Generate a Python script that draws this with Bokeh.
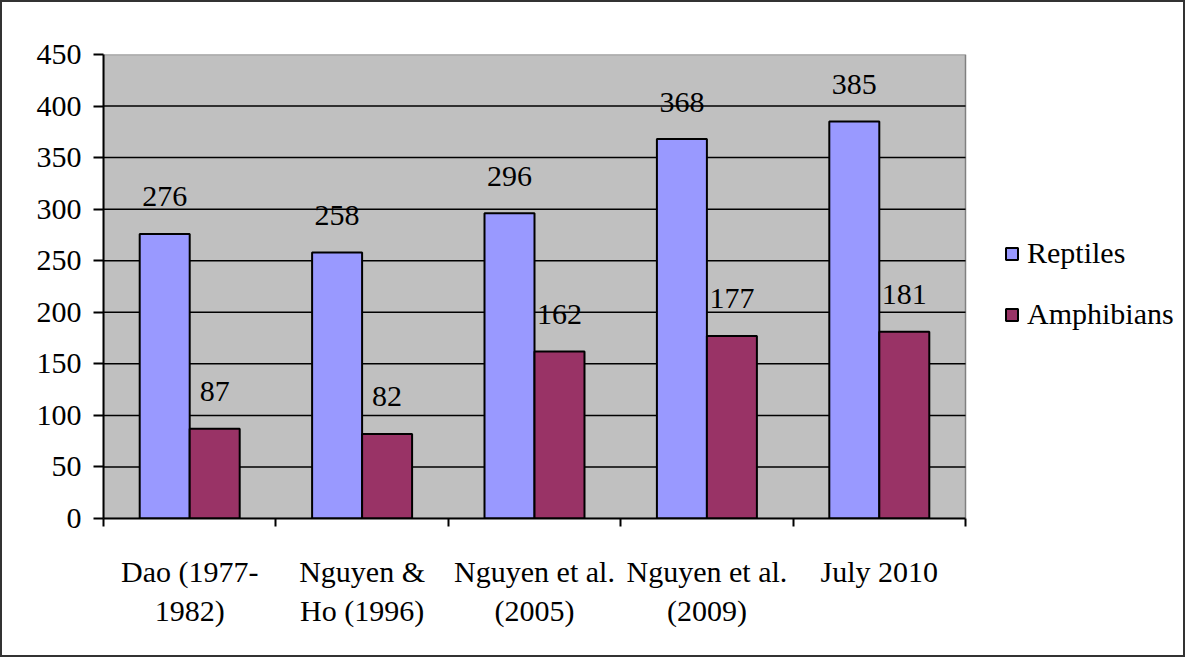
from bokeh.plotting import figure
from bokeh.models import FixedTicker, Legend, LegendItem, Range1d
from bokeh.core.properties import value
from bokeh.embed import file_html
from bokeh.resources import INLINE

categories = ["Dao (1977-\n1982)", "Nguyen &\nHo (1996)", "Nguyen et al.\n(2005)", "Nguyen et al.\n(2009)", "July 2010"]
reptiles = [276, 258, 296, 368, 385]
amphibians = [87, 82, 162, 177, 181]
y_ticks = [0, 50, 100, 150, 200, 250, 300, 350, 400, 450]

FONT = "Liberation Serif"
REP = "#9999ff"
AMP = "#993366"

n = len(categories)
ymax = y_ticks[-1]
bw = 0.29
x_rep = [i + 0.5 - bw / 2 for i in range(n)]
x_amp = [i + 0.5 + bw / 2 for i in range(n)]

# plot area is 862 px wide for n groups; the frame extends to the right for the legend
FRAME_W = 1080
x_end = n * FRAME_W / 862.0

p = figure(frame_width=FRAME_W, frame_height=464, x_range=Range1d(0, x_end), y_range=Range1d(0, ymax),
           output_backend="svg", toolbar_location=None,
           min_border_left=101, min_border_top=52, min_border_right=0, min_border_bottom=137)
p.styles = {"border": "2px solid #333333"}
p.background_fill_color = "white"
p.border_fill_color = "white"
p.outline_line_color = None

p.xgrid.grid_line_color = None
p.ygrid.grid_line_color = None

# plot-area background
p.quad(left=[0], right=[n], bottom=[0], top=[ymax], fill_color="#c0c0c0",
       line_color="#808080", line_width=1.5, level="image")
# horizontal gridlines
gl = y_ticks[1:-1]
p.segment(x0=[0] * len(gl), x1=[n] * len(gl), y0=gl, y1=gl, line_color="black", line_width=1.5)

r1 = p.vbar(x=x_rep, top=reptiles, width=bw, fill_color=REP, line_color="black", line_width=2)
r2 = p.vbar(x=x_amp, top=amphibians, width=bw, fill_color=AMP, line_color="black", line_width=2)

lab_x = x_rep + x_amp
lab_y = reptiles + amphibians
lab_t = [str(v) for v in lab_y]
p.text(x=lab_x, y=lab_y, text=lab_t, text_align="center", text_baseline="alphabetic",
       y_offset=-37, text_font=value(FONT), text_font_size="30px", text_color="black")

# y axis
ya = p.yaxis[0]
ya.ticker = FixedTicker(ticks=y_ticks)
ya.axis_line_color = "black"
ya.axis_line_width = 2
ya.major_tick_out = 10
ya.major_tick_in = 0
ya.major_tick_line_width = 2
ya.minor_tick_line_color = None
ya.major_label_standoff = 12
ya.major_label_text_font = FONT
ya.major_label_text_font_size = "30px"
ya.major_label_text_color = "black"

# x axis
xa = p.xaxis[0]
xa.bounds = (0, n)
xa.ticker = FixedTicker(ticks=[i + 0.5 for i in range(n)], minor_ticks=list(range(n + 1)))
xa.major_label_overrides = {i + 0.5: c for i, c in enumerate(categories)}
xa.axis_line_color = "black"
xa.axis_line_width = 2
xa.major_tick_line_color = None
xa.major_tick_out = 0
xa.major_tick_in = 0
xa.minor_tick_out = 8
xa.minor_tick_in = 0
xa.minor_tick_line_color = "black"
xa.minor_tick_line_width = 2
xa.major_label_standoff = 28
xa.major_label_text_font = FONT
xa.major_label_text_font_size = "30px"
xa.major_label_text_color = "black"

legend = Legend(items=[LegendItem(label="Reptiles", renderers=[r1]),
                       LegendItem(label="Amphibians", renderers=[r2])],
                location=(901, 187), orientation="vertical")
legend.background_fill_alpha = 0
legend.border_line_color = None
legend.padding = 0
legend.margin = 0
legend.glyph_width = 15
legend.glyph_height = 15
legend.label_height = 30
legend.spacing = 27
legend.label_standoff = 8
legend.label_text_font = FONT
legend.label_text_font_size = "30px"
legend.label_text_color = "black"
p.add_layout(legend, "center")

open("out.html", "w").write(file_html(p, INLINE))
